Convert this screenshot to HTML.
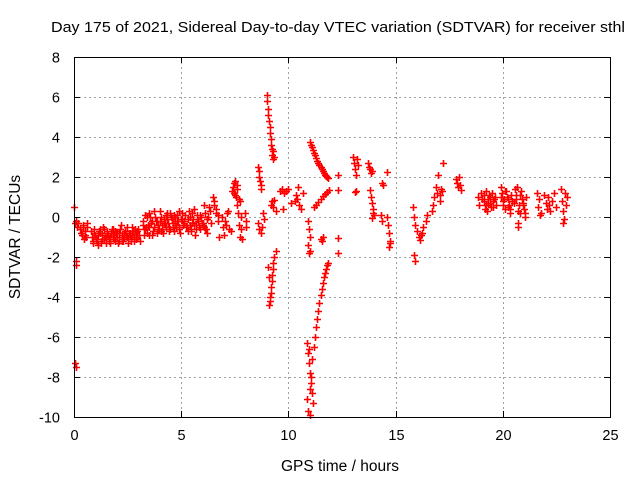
<!DOCTYPE html>
<html><head><meta charset="utf-8"><style>
body{margin:0;background:#fff}
svg{display:block;font-family:"Liberation Sans",sans-serif}
</style></head><body>
<svg id="chart" width="640" height="480">
<rect width="640" height="480" fill="#fff"/>
<g id="grid"></g>
<g id="pts"></g>
<rect x="74.5" y="57.5" width="536" height="360" fill="none" stroke="#000" stroke-width="1"/>
<g id="ticks"></g>
<text x="338" y="32" font-size="15" text-anchor="middle" textLength="574" lengthAdjust="spacingAndGlyphs">Day 175 of 2021, Sidereal Day-to-day VTEC variation (SDTVAR) for receiver sthl</text>
<text x="340" y="471" font-size="15.5" text-anchor="middle">GPS time / hours</text>
<text x="20" y="237" font-size="15.5" text-anchor="middle" transform="rotate(-90 20 237)">SDTVAR / TECUs</text>
</svg>
<script>
const xTicks=[0,5,10,15,20,25];
const yTicks=[-10,-8,-6,-4,-2,0,2,4,6,8];
const gpsHours=[0.0,0.05,0.1,0.15,0.2,0.08,0.1,0.05,0.1,0.3,0.35,0.4,0.45,0.5,0.55,0.6,
0.8,0.9,1.0,1.1,1.2,1.3,1.4,1.5,1.6,1.7,1.8,1.9,2.0,2.1,2.2,2.3,2.4,2.5,2.6,2.7,2.8,2.9,3.0,3.1,
0.85,0.95,1.05,1.15,1.25,1.35,1.45,1.55,1.65,1.75,1.85,1.95,2.05,2.15,2.25,2.35,2.45,2.55,2.65,2.75,2.85,2.95,
3.2,3.3,3.35,3.4,3.5,3.6,3.7,3.8,3.9,4.0,4.1,4.2,4.3,4.4,4.5,4.6,4.7,4.8,4.9,5.0,5.1,5.2,5.3,5.4,5.5,5.6,5.7,5.8,5.9,6.0,6.1,6.2,6.3,6.4,
3.25,3.45,3.55,3.65,3.75,3.85,3.95,4.05,4.15,4.25,4.35,4.45,4.55,4.65,4.75,4.85,4.95,5.05,5.15,5.25,5.35,5.45,5.55,5.65,5.75,5.85,5.95,6.05,6.15,6.25,
0.32,0.42,0.52,0.62,0.82,0.92,1.02,1.12,1.22,1.32,1.42,1.52,1.62,1.72,1.82,1.92,2.02,2.12,2.22,2.32,2.42,2.52,2.62,2.72,2.82,2.92,3.02,
0.88,1.08,1.28,1.48,1.68,1.88,2.08,2.28,2.48,2.68,2.88,
3.22,3.32,3.42,3.52,3.62,3.72,3.82,3.92,4.02,4.12,4.22,4.32,4.42,4.52,4.62,4.72,4.82,4.92,5.02,5.12,5.22,5.32,5.42,5.52,5.62,5.72,5.82,5.92,6.02,6.12,6.22,6.32,
3.28,3.48,3.68,3.88,4.08,4.28,4.48,4.68,4.88,5.08,5.28,5.48,5.68,5.88,6.08,
6.5,6.55,6.6,6.7,6.75,6.9,7.0,7.1,7.2,7.3,7.4,7.45,7.5,7.55,7.6,7.65,7.7,7.75,7.8,7.62,7.58,7.68,
6.52,6.62,6.72,6.95,7.05,7.15,7.25,7.35,7.48,7.52,7.72,7.78,
7.97,8.0,8.02,7.85,
8.6,8.62,8.65,8.68,8.7,8.72,8.6,8.65,8.7,8.75,8.8,8.85,
9.0,9.02,9.05,9.07,9.1,9.12,9.15,9.17,9.2,9.22,9.25,9.28,9.3,9.33,
9.2,9.25,9.3,9.35,9.4,
9.4,9.35,9.3,9.28,9.25,9.22,9.2,9.17,9.15,9.12,9.1,9.08,9.05,
9.6,9.7,9.8,9.9,10.0,10.1,10.3,10.4,10.5,10.6,10.7,9.75,10.45,10.35,
10.9,10.95,11.0,10.92,11.0,10.97,
10.85,10.9,10.95,11.0,11.05,11.1,11.15,10.9,11.0,11.05,10.95,11.1,11.02,10.88,
11.0,11.05,11.1,11.15,11.2,11.25,11.3,11.35,11.4,11.45,11.5,11.55,11.6,11.65,11.7,11.75,11.8,11.85,
11.2,11.3,11.4,11.5,11.6,11.7,11.8,11.9,
11.2,11.25,11.3,11.35,11.4,11.45,11.5,11.55,11.6,11.65,11.7,11.75,11.8,11.85,
11.5,11.55,11.6,
12.3,12.3,12.3,12.3,
13.0,13.05,13.1,13.15,13.2,13.25,13.1,13.15,
13.7,13.75,13.8,13.85,13.9,14.6,14.35,14.4,
13.8,13.85,13.9,13.95,14.0,13.9,13.95,14.3,14.35,14.6,14.65,14.7,14.75,14.7,14.72,
15.8,15.85,15.9,16.0,16.1,16.2,16.3,16.4,16.45,16.15,16.25,15.85,15.9,
16.7,16.75,16.8,16.9,16.95,17.05,17.0,17.1,17.15,17.2,17.05,
17.8,17.85,17.9,17.95,18.0,18.05,
18.85,18.9,19.0,19.1,19.15,19.2,19.3,19.4,19.45,19.5,19.6,19.7,19.25,19.35,19.55,
19.05,19.12,19.22,19.32,19.42,19.52,19.62,
19.9,19.95,20.0,20.1,20.15,20.2,20.3,20.35,20.4,20.5,20.05,20.25,
19.92,20.02,20.12,20.22,20.32,20.42,
20.55,20.6,20.7,20.75,20.8,20.85,20.9,21.0,21.05,21.1,20.7,20.95,20.65,
20.62,20.72,20.82,20.92,21.02,
21.6,21.65,21.7,21.8,21.9,22.0,22.05,22.1,22.2,22.3,22.4,22.5,21.75,22.15,
22.7,22.75,22.8,22.85,22.9,22.95,23.0,22.8];
const sdtvar=[0.5,-0.3,-0.2,-0.5,-0.3,-2.2,-2.4,-7.3,-7.5,-0.6,-0.9,-0.4,-1.1,-0.7,-1.0,-0.3,
-0.7,-1.2,-0.9,-1.4,-0.8,-1.1,-0.6,-1.3,-0.9,-1.0,-0.6,-1.2,-0.8,-1.0,-0.4,-1.1,-0.7,-1.3,-0.9,-0.5,-1.0,-0.8,-0.6,-1.2,
-1.0,-0.6,-1.1,-0.7,-1.2,-0.5,-1.0,-0.8,-1.2,-0.6,-0.9,-0.8,-1.3,-0.6,-0.9,-1.0,-0.5,-0.8,-1.1,-0.7,-0.6,-1.0,
-0.2,0.1,-0.5,-0.8,0.2,-0.3,-0.7,0.0,-0.4,0.3,-0.6,-0.1,0.1,-0.3,0.2,-0.5,0.0,-0.2,0.3,-0.1,-0.4,0.1,-0.7,0.0,-0.3,0.4,-0.6,-0.2,0.1,-0.4,0.2,-0.8,0.5,-0.3,
-0.6,-0.4,0.0,-0.9,0.3,-0.2,-0.6,0.0,-0.8,-0.3,0.2,-0.7,-0.1,0.1,-0.5,-0.2,-0.8,0.2,-0.3,-0.5,0.3,-0.6,-0.1,-0.9,0.1,-0.5,-0.3,0.6,-0.6,0.0,
-0.8,-0.5,-0.9,-0.5,-1.0,-0.8,-1.1,-0.9,-0.6,-0.9,-1.1,-0.7,-1.1,-0.8,-1.0,-0.7,-1.0,-0.8,-1.2,-0.8,-0.9,-1.1,-0.8,-0.9,-1.2,-0.7,-0.9,
-1.3,-1.2,-1.3,-1.1,-1.3,-1.1,-1.2,-1.2,-1.0,-1.2,-1.1,
-0.4,-0.6,0.0,-0.5,-0.2,-0.5,-0.2,-0.6,-0.2,-0.4,-0.3,-0.1,-0.5,0.0,-0.3,-0.4,0.1,-0.5,-0.1,-0.2,-0.5,-0.1,-0.4,0.2,-0.4,-0.1,-0.5,0.0,-0.3,-0.6,-0.1,0.3,
-0.9,-0.9,-0.7,-0.8,-0.7,-0.5,-0.6,-0.7,-0.6,-0.4,-0.5,-0.7,-0.4,-0.6,-0.5,
1.0,0.6,0.2,-0.2,-1.0,0.0,-0.9,-0.4,0.3,-0.7,1.5,1.2,1.8,1.0,0.6,0.2,-0.4,-1.0,-0.6,1.4,1.6,0.9,
0.8,0.4,0.1,-0.5,-0.2,0.2,-0.6,1.3,1.7,1.1,0.8,0.0,
0.2,-0.2,-0.5,-1.1,
2.5,2.3,2.0,1.8,1.6,1.4,-0.3,-0.6,-0.8,-0.5,0.2,-0.1,
6.1,5.8,5.4,5.1,4.8,4.5,4.2,3.9,3.6,3.4,3.1,2.9,3.3,3.0,
0.6,0.8,0.5,0.85,0.3,
-1.7,-2.0,-2.3,-2.6,-2.9,-3.2,-3.5,-3.8,-4.0,-4.2,-4.4,-3.0,-2.5,
1.3,1.4,1.2,1.3,1.4,0.7,0.8,0.9,0.6,0.4,1.2,0.4,1.5,1.1,
-0.2,-0.6,-1.0,-1.4,-1.7,-1.8,
-6.3,-6.8,-7.3,-7.8,-8.3,-8.8,-9.3,-9.7,-9.9,-8.0,-6.6,-7.1,-8.6,-9.1,
3.75,3.6,3.5,3.35,3.2,3.1,2.95,2.8,2.7,2.6,2.5,2.4,2.3,2.2,2.1,2.05,2.0,1.95,
0.5,0.6,0.75,0.9,1.05,1.15,1.25,1.35,
-6.5,-6.0,-5.5,-5.1,-4.7,-4.3,-3.9,-3.6,-3.3,-3.0,-2.8,-2.6,-2.4,-2.3,
-1.1,-1.2,-1.0,
2.1,1.35,-1.05,-1.8,
3.0,2.7,2.4,2.1,2.9,2.6,1.25,1.3,
2.7,2.5,2.4,2.2,2.3,2.25,1.7,1.6,
1.35,1.0,0.7,0.4,0.1,-0.05,0.2,0.1,-0.2,0.0,-0.4,-0.8,-1.2,-1.5,-1.3,
0.5,0.0,-0.4,-0.7,-1.0,-0.9,-0.5,-0.2,0.1,-1.15,-0.8,-1.9,-2.2,
0.3,0.6,1.0,1.5,1.2,0.8,2.1,1.4,1.3,2.7,1.1,
1.9,1.7,1.5,2.0,1.6,1.35,
1.0,0.6,1.2,0.8,0.4,1.3,0.7,1.0,0.5,1.2,0.9,0.6,0.3,1.1,0.8,
0.9,1.1,0.6,0.9,0.7,0.5,1.0,
1.5,1.2,0.8,0.4,1.3,1.0,0.6,0.2,1.1,0.7,0.9,0.5,
1.0,0.6,1.3,0.9,0.4,0.8,
1.4,1.1,-0.3,0.6,0.2,1.3,0.9,0.4,0.0,1.0,-0.5,0.7,1.5,
0.9,0.3,1.1,0.6,0.2,
1.2,0.5,0.9,0.2,1.1,0.7,0.4,1.0,0.3,0.8,1.2,0.5,0.1,0.6,
1.4,0.8,0.3,-0.1,1.2,0.6,1.0,-0.3];
const NS="http://www.w3.org/2000/svg";
const X0=74,X1=610,Y0=417,Y1=57;
function xs(v){return X0+(v-0)/(25-0)*(X1-X0);}
function ys(v){return Y0-(v+10)/(18)*(Y0-Y1);}
const grid=document.getElementById('grid'),ticks=document.getElementById('ticks'),pts=document.getElementById('pts');
function ln(p,x1,y1,x2,y2,st,dash){const l=document.createElementNS(NS,'line');l.setAttribute('x1',x1);l.setAttribute('y1',y1);l.setAttribute('x2',x2);l.setAttribute('y2',y2);l.setAttribute('stroke',st);if(dash)l.setAttribute('stroke-dasharray',dash);p.appendChild(l);return l;}
xTicks.forEach(t=>{const x=Math.round(xs(t))+0.5;
 if(t>0&&t<25){const g=ln(grid,x,Y1,x,Y0,'#a0a0a0','2,3');
 
 }
 const a=ln(ticks,x,Y0+0.5,x,Y0-6,'#000');
 
 
 ln(ticks,x,Y1,x,Y1+6,'#000');
 const tx=document.createElementNS(NS,'text');tx.setAttribute('x',x);tx.setAttribute('y',Y0+23);tx.setAttribute('font-size','14.5');tx.setAttribute('text-anchor','middle');tx.textContent=t;
 
 
 ticks.appendChild(tx);});
yTicks.forEach(t=>{const y=Math.round(ys(t))+0.5;
 if(t>-10&&t<8){const g=ln(grid,X0,y,X1,y,'#a0a0a0','2,3');
 
 }
 const a=ln(ticks,X0,y,X0+6,y,'#000');
 
 
 ln(ticks,X1,y,X1-6,y,'#000');
 const tx=document.createElementNS(NS,'text');tx.setAttribute('x',X0-14);tx.setAttribute('y',y+5);tx.setAttribute('font-size','14.5');tx.setAttribute('text-anchor','end');tx.textContent=t;
 
 
 ticks.appendChild(tx);});
let d='';
for(let i=0;i<gpsHours.length&&i<sdtvar.length;i++){const x=Math.round(xs(gpsHours[i]))+0.5,y=Math.round(ys(sdtvar[i]))+0.5;d+='M'+(x-3.5)+' '+y+'h7M'+x+' '+(y-3.5)+'v7';}
const p=document.createElementNS(NS,'path');p.setAttribute('d',d);p.setAttribute('stroke','rgb(255,0,0)');p.setAttribute('stroke-width','1.6');p.setAttribute('fill','none');


pts.appendChild(p);
</script>
</body></html>
